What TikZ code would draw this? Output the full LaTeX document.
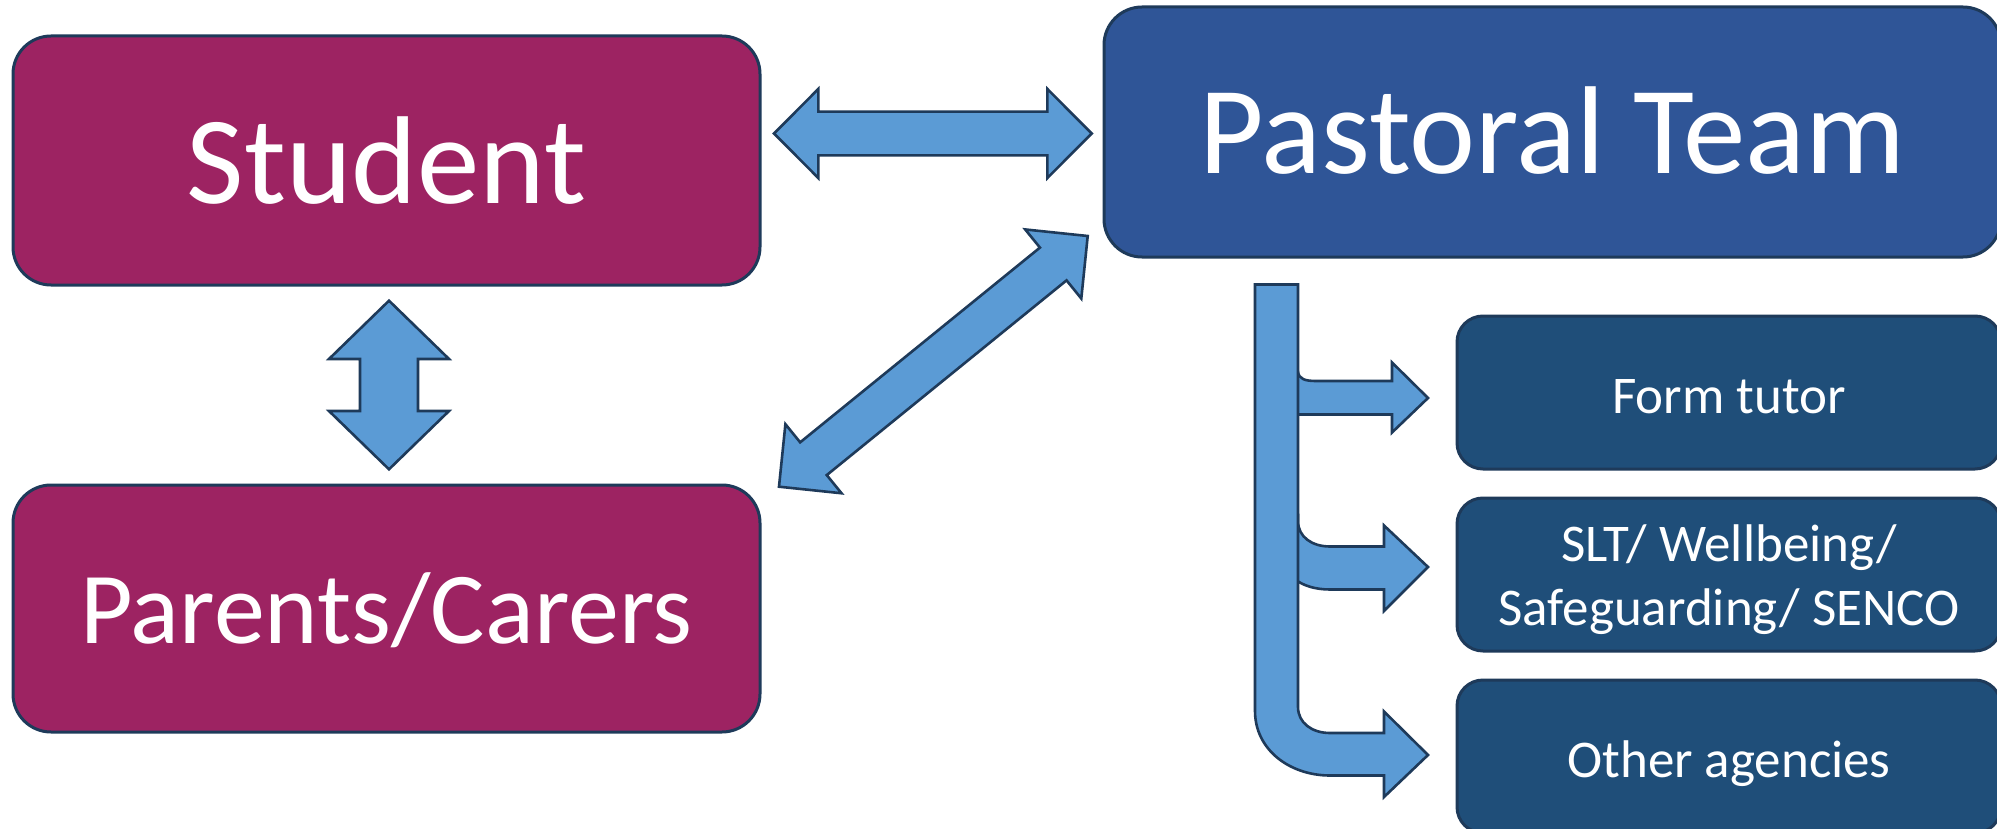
\documentclass[tikz,border=0pt]{standalone}
\usepackage{fontspec}
\setmainfont{Carlito}
\definecolor{berry}{RGB}{157,35,98}
\definecolor{royal}{RGB}{47,85,151}
\definecolor{navy}{RGB}{31,78,121}
\definecolor{arrowblue}{RGB}{91,155,213}
\definecolor{edge}{RGB}{30,58,90}
\newcommand{\dblarrowpath}[4]{(-#1,0) -- (-#1+#2,#3) -- (-#1+#2,#4) -- (#1-#2,#4) -- (#1-#2,#3) -- (#1,0) -- (#1-#2,-#3) -- (#1-#2,-#4) -- (-#1+#2,-#4) -- (-#1+#2,-#3) -- cycle}
\begin{document}
\begin{tikzpicture}[x=1pt,y=-1pt,
  box/.style={draw=edge, line width=3pt, rounded corners=38pt, inner sep=0pt, text=white, anchor=center},
  bigbox/.style={box, minimum width=747pt},
  subbox/.style={box, fill=navy, rounded corners=26pt, minimum width=544pt, minimum height=153pt,
     font=\fontsize{53}{64}\selectfont, align=center},
  blk/.style={fill=arrowblue, draw=edge, line width=2.6pt, line join=miter}]
\useasboundingbox (0,0) rectangle (1997,829);
\clip (0,0) rectangle (1997,829);
\fill[white] (0,0) rectangle (1997,829);

% main boxes
\node[bigbox, fill=berry, minimum height=249pt, font=\fontsize{125}{150}\selectfont,
      text height=103pt, text depth=16pt] (student) at (386.5,160.5) {Student};
\node[bigbox, fill=berry, minimum height=247pt, font=\fontsize{102}{122}\selectfont,
      text height=86pt, text depth=15.5pt] (parents) at (386.5,608.5) {Parents/Carers};
\node[box, fill=royal, minimum width=897pt, minimum height=250pt, font=\fontsize{125}{150}\selectfont,
      text height=100pt, text depth=16pt] (pastoral) at (1552.5,132) {Pastoral Team};

% sub boxes
\node[subbox, text height=51pt, text depth=8.5pt] (form) at (1729,392.5) {Form tutor};
\node[subbox] (slt) at (1729,574.5) {\rule{0pt}{48pt}SLT/ Wellbeing/\\Safeguarding/ SENCO};
\node[subbox, text height=51pt, text depth=8.5pt] (other) at (1729,756.5) {Other agencies};

% block double arrows
\begin{scope}[shift={(932.85,133.5)}]
  \draw[blk] \dblarrowpath{158.85}{44.3}{44.5}{21.85};
\end{scope}
\begin{scope}[shift={(389,385)}, rotate=90]
  \draw[blk] \dblarrowpath{84.3}{58.3}{60}{29};
\end{scope}
\begin{scope}[shift={(933.35,361.35)}, rotate=39.08]
  \draw[blk] \dblarrowpath{198.85}{44.4}{44.5}{21.1};
\end{scope}

% branching arrow
\draw[blk] (1270,372) -- (1298,372) .. controls (1299,379) and (1305,381) .. (1316,381)
  -- (1392,381) -- (1392,362.5) -- (1428,398) -- (1392,432.5) -- (1392,414.5) -- (1270,414.5) -- cycle;
\draw[blk] (1270,515) -- (1298,515) -- (1298,521) .. controls (1298,537) and (1312,546.5) .. (1330,546.5)
  -- (1384,546.5) -- (1384,525.5) -- (1428,567) -- (1384,611) -- (1384,589.5) -- (1330,589.5)
  .. controls (1316,589.5) and (1304,586) .. (1296,580) -- (1270,580) -- cycle;
\draw[blk] (1255,284.5) -- (1255,711) .. controls (1255,750) and (1290,775.5) .. (1330,775.5)
  -- (1384,775.5) -- (1384,797) -- (1428,755) -- (1384,711.5) -- (1384,733) -- (1330,733)
  .. controls (1312,733) and (1298,723) .. (1298,707) -- (1298,284.5) -- cycle;
\end{tikzpicture}
\end{document}
